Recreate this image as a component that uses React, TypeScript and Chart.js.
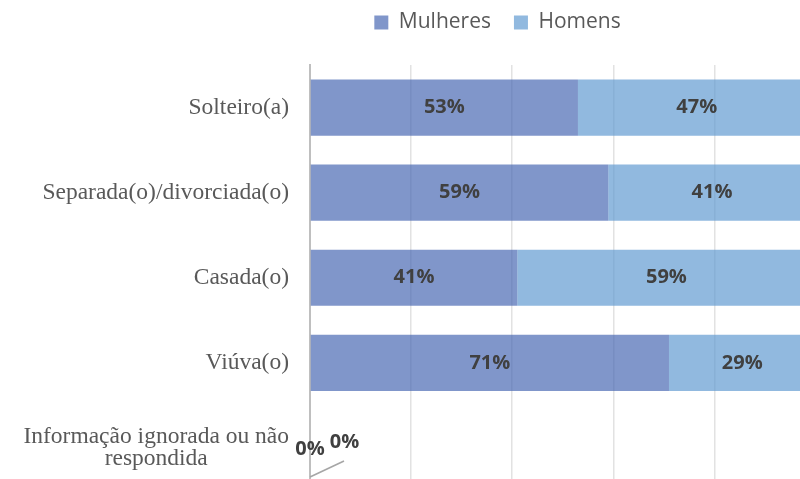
import React, { useEffect, useRef } from "react";
import { Chart, registerables } from "chart.js";

Chart.register(...registerables);

// ---- data ----
const categories: (string | string[])[] = [
  "Solteiro(a)",
  "Separada(o)/divorciada(o)",
  "Casada(o)",
  "Viúva(o)",
  ["Informação ignorada ou não", "respondida"],
];
const seriesNames = ["Mulheres", "Homens"];
const mulheres = [53, 59, 41, 71, 0];
const homens = [47, 41, 59, 29, 0];
const xTickStep = 20;

// ---- styles ----
const colMulheres = "rgba(74,106,180,0.7)";
const colHomens = "rgba(99,155,209,0.7)";
const W = 995;
const H = 500;

const yLabelPlugin = {
  id: "yLabelPlugin",
  afterDraw(chart: any) {
    const { ctx, chartArea } = chart;
    const yScale = chart.scales.y;
    ctx.save();
    ctx.font = '23.5px "Liberation Serif"';
    ctx.fillStyle = "#595959";
    ctx.textBaseline = "middle";
    const rightX = chartArea.left - 21;
    const lh = 21.5;
    categories.forEach((lab, i) => {
      const y = yScale.getPixelForValue(i);
      const lines = Array.isArray(lab) ? lab : [lab];
      if (lines.length === 1) {
        ctx.textAlign = "right";
        ctx.fillText(lines[0], rightX, y);
      } else {
        const maxW = Math.max(...lines.map((l) => ctx.measureText(l).width));
        const cx = rightX - maxW / 2;
        ctx.textAlign = "center";
        const y0 = y - ((lines.length - 1) * lh) / 2;
        lines.forEach((l, k) => ctx.fillText(l, cx, y0 + k * lh));
      }
    });
    ctx.restore();
  },
};

const dataLabelPlugin = {
  id: "dataLabelPlugin",
  afterDatasetsDraw(chart: any) {
    const { ctx } = chart;
    const xScale = chart.scales.x;
    const x0 = xScale.getPixelForValue(0);
    ctx.save();
    ctx.font = 'bold 20px "Open Sans"';
    ctx.fillStyle = "#404040";
    ctx.textAlign = "center";
    ctx.textBaseline = "middle";
    chart.data.datasets.forEach((ds: any, d: number) => {
      const meta = chart.getDatasetMeta(d);
      meta.data.forEach((el: any, i: number) => {
        const v = ds.data[i];
        const p = el.getProps(["x", "y", "base"], true);
        const txt = `${Math.round(v)}%`;
        if (v > 0) {
          ctx.fillText(txt, (p.x + p.base) / 2, p.y);
        } else if (d === 0) {
          ctx.fillText(txt, x0, p.y + 1);
        } else {
          ctx.save();
          ctx.strokeStyle = "#a6a6a6";
          ctx.lineWidth = 1.5;
          ctx.beginPath();
          ctx.moveTo(x0, p.y + 29);
          ctx.lineTo(x0 + 34, p.y + 13);
          ctx.stroke();
          ctx.restore();
          ctx.fillText(txt, x0 + 34.5, p.y - 5.5);
        }
      });
    });
    ctx.restore();
  },
};

export default function App() {
  const ref = useRef<HTMLCanvasElement>(null);
  useEffect(() => {
    if (!ref.current) return;
    const chart = new Chart(ref.current, {
      type: "bar",
      data: {
        labels: categories.map((c) => (Array.isArray(c) ? c.join(" ") : c)),
        datasets: [
          {
            label: seriesNames[0],
            data: mulheres,
            backgroundColor: colMulheres,
            borderWidth: 0,
            barPercentage: 0.66,
            categoryPercentage: 1,
          },
          {
            label: seriesNames[1],
            data: homens,
            backgroundColor: colHomens,
            borderWidth: 0,
            barPercentage: 0.66,
            categoryPercentage: 1,
          },
        ],
      },
      options: {
        indexAxis: "y",
        responsive: false,
        animation: false,
        devicePixelRatio: 1,
        layout: { padding: { top: -11, bottom: 9.5, left: 0, right: 0 } },
        plugins: {
          legend: {
            position: "top",
            labels: {
              boxWidth: 14,
              boxHeight: 14,
              padding: 23,
              color: "#595959",
              font: { family: "Open Sans", size: 21 },
            },
          },
          tooltip: { enabled: false },
        },
        scales: {
          x: {
            position: "top",
            stacked: true,
            min: 0,
            max: (W - 310) / 5.056,
            ticks: { display: false, stepSize: xTickStep },
            grid: { color: "#e2e2e2", lineWidth: 1.5, drawTicks: false },
            border: { display: false },
            afterFit: (s: any) => {
              s.height = 22;
            },
          },
          y: {
            stacked: true,
            ticks: { display: false },
            grid: { display: false, drawTicks: false },
            border: { display: true, color: "#bfbfbf", width: 2 },
            afterFit: (s: any) => {
              s.width = 310;
            },
          },
        },
      },
      plugins: [dataLabelPlugin, yLabelPlugin],
    });
    return () => chart.destroy();
  }, []);
  return (
    <div
      style={{
        position: "fixed",
        left: 0,
        top: 0,
        width: 800,
        height: 479,
        overflow: "hidden",
        background: "#fff",
      }}
    >
      <canvas ref={ref} width={W} height={H} style={{ width: W, height: H, display: "block" }} />
    </div>
  );
}
